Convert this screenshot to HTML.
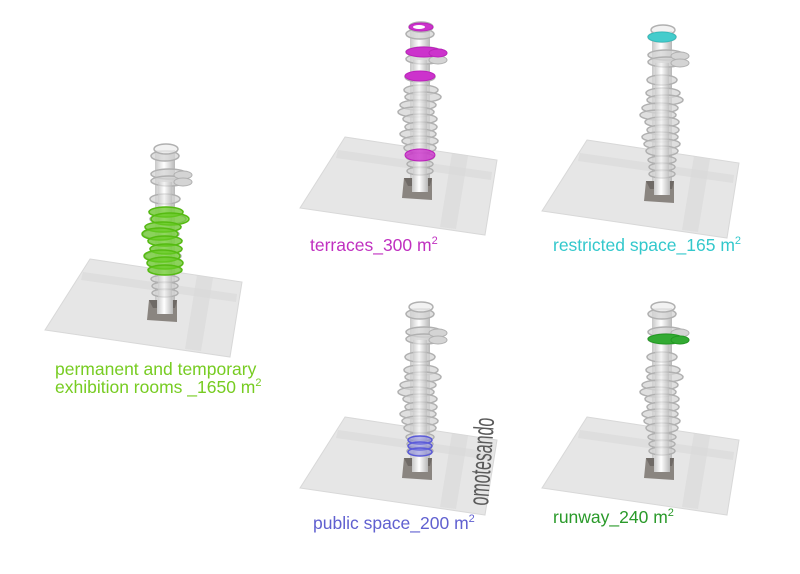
<!DOCTYPE html>
<html><head><meta charset="utf-8"><style>
html,body{margin:0;padding:0;background:#fff;}
svg{display:block}
text{font-family:"Liberation Sans",sans-serif;font-size:17.5px}
</style></head><body>
<svg width="800" height="574" viewBox="0 0 800 574" xmlns="http://www.w3.org/2000/svg">
<defs>
<linearGradient id="col" x1="0" x2="1">
<stop offset="0" stop-color="#c8c8c8"/><stop offset="0.45" stop-color="#ffffff"/><stop offset="1" stop-color="#b8b8b8"/>
</linearGradient>
<g id="plane">
<polygon points="345,137 497,160 485,235 300,208" fill="#e6e6e6" stroke="#d8d8d8"/>
<polygon points="338,150 492,172 491,180 336,158" fill="#dadada" opacity="0.7"/>
<polygon points="452,153 468,156 456,229 440,227" fill="#dadada" opacity="0.7"/>
</g>
<g id="tower">
<rect x="410" y="28" width="20" height="160" fill="url(#col)"/>
<g fill="#d4d4d4" fill-opacity="0.75" stroke="#b0b0b0" stroke-width="1.5">
<ellipse cx="420" cy="34" rx="14" ry="5"/>
<ellipse cx="421" cy="27" rx="12" ry="5" fill="#eee"/>
<ellipse cx="424" cy="52" rx="18" ry="5"/>
<ellipse cx="424" cy="59" rx="18" ry="5"/>
<ellipse cx="420" cy="77" rx="15" ry="5"/>
<ellipse cx="421" cy="90" rx="17" ry="5"/>
<ellipse cx="423" cy="97" rx="18" ry="5"/>
<ellipse cx="418" cy="105" rx="18" ry="5"/>
<ellipse cx="416" cy="112" rx="18" ry="5"/>
<ellipse cx="420" cy="119" rx="17" ry="5"/>
<ellipse cx="421" cy="127" rx="16" ry="5"/>
<ellipse cx="418" cy="134" rx="18" ry="5"/>
<ellipse cx="420" cy="141" rx="18" ry="5"/>
<ellipse cx="420" cy="148" rx="16" ry="5"/>
<ellipse cx="420" cy="157" rx="14" ry="4"/>
<ellipse cx="420" cy="164" rx="13" ry="4"/>
<ellipse cx="420" cy="171" rx="13" ry="4"/>
</g>
<ellipse cx="438" cy="53" rx="9" ry="4" fill="#d4d4d4" stroke="#b0b0b0"/>
<ellipse cx="438" cy="60" rx="9" ry="4" fill="#d4d4d4" stroke="#b0b0b0"/>
<rect x="413" y="60" width="14" height="128" fill="url(#col)" opacity="0.6"/>
<polygon points="404,178 432,178 432,200 402,198" fill="#8a8580"/>
<polygon points="404,178 432,178 430,186 408,186" fill="#6f6a66"/>
<rect x="412" y="178" width="16" height="14" fill="url(#col)"/>
</g>
</defs>

<!-- T1 left -->
<g transform="translate(-255,122)">
<use href="#plane"/><use href="#tower"/>
<g fill="#66cc22" fill-opacity="0.7" stroke="#55bb11" stroke-width="1.5">
<ellipse cx="421" cy="90" rx="17" ry="5"/><ellipse cx="425" cy="97" rx="19" ry="6"/>
<ellipse cx="418" cy="105" rx="18" ry="5"/><ellipse cx="415" cy="112" rx="18" ry="6"/>
<ellipse cx="420" cy="119" rx="17" ry="5"/><ellipse cx="421" cy="127" rx="16" ry="5"/>
<ellipse cx="417" cy="134" rx="18" ry="6"/><ellipse cx="420" cy="141" rx="18" ry="6"/>
<ellipse cx="420" cy="148" rx="17" ry="5"/>
</g>
</g>
<!-- T2 terraces -->
<g>
<use href="#plane"/><use href="#tower"/>
<g fill="#cc33cc" stroke="#bb22bb">
<ellipse cx="421" cy="27" rx="12" ry="4"/>
<ellipse cx="424" cy="52" rx="18" ry="5"/><ellipse cx="438" cy="53" rx="9" ry="4"/>
<ellipse cx="420" cy="76" rx="15" ry="5"/>
<ellipse cx="420" cy="155" rx="15" ry="6" fill-opacity="0.8"/>
</g>
<ellipse cx="419" cy="27" rx="6" ry="2" fill="#fff"/>
</g>
<!-- T3 restricted -->
<g transform="translate(242,3)">
<use href="#plane"/><use href="#tower"/>
<ellipse cx="420" cy="34" rx="14" ry="5" fill="#44cccc" stroke="#33bbbb"/>
</g>
<!-- T4 public -->
<g transform="translate(0,280)">
<use href="#plane"/><use href="#tower"/>
<g fill="#8080e0" fill-opacity="0.5" stroke="#5a5ad8" stroke-width="1.5">
<ellipse cx="420" cy="160" rx="12" ry="4"/><ellipse cx="420" cy="166" rx="12" ry="4"/><ellipse cx="420" cy="172" rx="12" ry="4"/>
</g>
</g>
<text transform="translate(488,506) rotate(-86)" fill="#5a5a5a" style="font-size:28px" textLength="88" lengthAdjust="spacingAndGlyphs">omotesando</text>
<!-- T5 runway -->
<g transform="translate(242,280)">
<use href="#plane"/><use href="#tower"/>
<g fill="#33aa33" stroke="#229922">
<ellipse cx="424" cy="59" rx="18" ry="5"/><ellipse cx="438" cy="60" rx="9" ry="4"/>
</g>
</g>

<text x="310" y="251" fill="#c030c0">terraces_300 m<tspan dy="-7" style="font-size:11px">2</tspan></text>
<text x="553" y="251" fill="#33c8cc">restricted space_165 m<tspan dy="-7" style="font-size:11px">2</tspan></text>
<text x="55" y="375" fill="#77cc22">permanent and temporary</text>
<text x="55" y="393" fill="#77cc22">exhibition rooms _1650 m<tspan dy="-7" style="font-size:11px">2</tspan></text>
<text x="313" y="529" fill="#6060d0">public space_200 m<tspan dy="-7" style="font-size:11px">2</tspan></text>
<text x="553" y="523" fill="#2a9a2a">runway_240 m<tspan dy="-7" style="font-size:11px">2</tspan></text>
</svg>
</body></html>
